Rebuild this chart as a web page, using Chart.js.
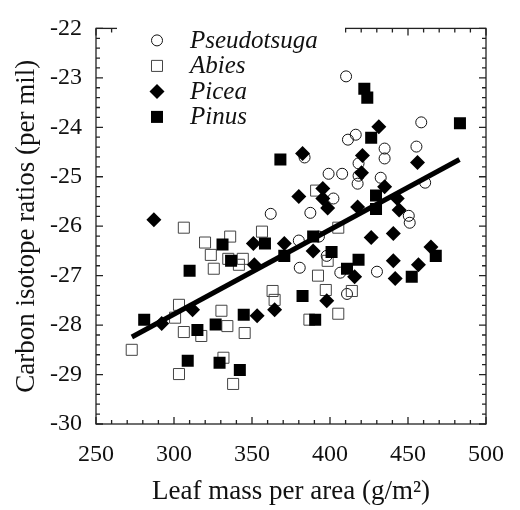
<!DOCTYPE html>
<html>
<head>
<meta charset="utf-8">
<script src="https://cdn.jsdelivr.net/npm/chart.js@4/dist/chart.umd.min.js"></script>
<style>
  html, body { margin: 0; padding: 0; background: #fff; }
</style>
</head>
<body>
<canvas id="myChart" width="520" height="510"></canvas>
<script>
var ctx = document.getElementById('myChart').getContext('2d');

// leaf mass per area (g/m2) and carbon isotope ratio (per mil)
var pseudotsugaX = [362.0, 380.0, 380.6, 387.4, 392.9, 397.9, 406.6, 410.9, 430.1, 410.3, 458.5, 411.5, 416.5, 383.7, 435.0, 435.0, 455.4, 418.3, 418.3, 417.7, 399.1, 407.8, 432.5, 461.0, 402.2, 450.5, 451.1];
var pseudotsugaY = [-25.75, -26.29, -26.84, -25.73, -26.21, -26.60, -26.94, -27.37, -26.92, -22.97, -23.90, -24.25, -24.15, -24.61, -24.43, -24.63, -24.39, -24.73, -24.98, -25.14, -24.94, -24.94, -25.02, -25.12, -25.44, -25.79, -25.93];

var abiesX = [306.3, 319.9, 336.0, 356.4, 323.6, 334.8, 344.1, 341.6, 325.5, 363.2, 364.5, 303.2, 300.7, 330.4, 334.2, 306.3, 317.5, 345.3, 272.9, 331.7, 303.2, 337.9, 405.3, 391.1, 392.3, 397.3, 398.5, 414.0, 386.8, 405.3];
var abiesY = [-26.03, -26.33, -26.21, -26.11, -26.58, -26.66, -26.66, -26.78, -26.86, -27.31, -27.49, -27.59, -27.85, -27.71, -28.02, -28.14, -28.22, -28.16, -28.50, -28.66, -28.99, -29.19, -26.03, -25.28, -27.00, -27.29, -26.70, -27.31, -27.89, -27.77];

var piceaX = [287.1, 292.1, 311.9, 350.9, 370.7, 351.5, 353.3, 364.5, 382.4, 420.8, 431.3, 456.1, 420.2, 435.0, 395.4, 395.4, 398.5, 380.0, 417.7, 443.1, 444.3, 389.2, 426.4, 440.6, 464.7, 440.6, 456.7, 415.8, 441.8, 397.9];
var piceaY = [-25.87, -27.97, -27.69, -26.35, -26.35, -26.78, -27.81, -27.69, -24.53, -24.57, -23.99, -24.71, -24.92, -25.20, -25.24, -25.44, -25.63, -25.40, -25.61, -25.44, -25.67, -26.50, -26.23, -26.15, -26.42, -26.70, -26.78, -27.02, -27.06, -27.51];

var pinusX = [280.9, 308.8, 310.0, 331.1, 336.6, 315.0, 326.7, 329.2, 342.2, 344.7, 358.3, 370.7, 368.2, 382.4, 390.5, 389.2, 401.0, 410.9, 418.3, 429.5, 429.5, 422.0, 423.9, 426.4, 483.3, 452.4, 467.8];
var pinusY = [-27.89, -28.72, -26.90, -26.37, -26.70, -28.10, -27.99, -28.76, -28.91, -27.79, -26.35, -26.60, -24.65, -27.41, -27.89, -26.21, -26.52, -26.86, -26.68, -25.65, -25.38, -23.22, -23.40, -24.21, -23.92, -27.02, -26.60];

// regression line end points
var fitX = [273, 483];
var fitY = [-28.24, -24.65];

var legendNames = ['Pseudotsuga', 'Abies', 'Picea', 'Pinus'];

function pts(xs, ys) {
    return xs.map(function (x, i) { return {x: x, y: ys[i]}; });
}

var serif = '"Liberation Serif", "Times New Roman", serif';

// draws a marker the same way for the legend
function drawMarker(c, style, r, x, y, fill, stroke, lw) {
    c.beginPath();
    if (style == 'circle') {
        c.arc(x, y, r, 0, Math.PI * 2);
    } else if (style == 'rect') {
        var s = r * Math.SQRT1_2;
        c.rect(x - s, y - s, 2 * s, 2 * s);
    } else if (style == 'rectRot') {
        c.moveTo(x, y - r); c.lineTo(x + r, y); c.lineTo(x, y + r); c.lineTo(x - r, y);
        c.closePath();
    }
    if (fill) { c.fillStyle = fill; c.fill(); }
    if (lw) { c.strokeStyle = stroke; c.lineWidth = lw; c.stroke(); }
}

var insideLegend = {
    id: 'insideLegend',
    afterDraw: function (chart) {
        var c = chart.ctx, a = chart.chartArea;
        c.save();
        // the legend box is white and hides part of the top border
        c.fillStyle = '#fff';
        c.fillRect(a.left + 21, a.top - 3, 228, 12);
        c.font = 'italic 25px ' + serif;
        c.textBaseline = 'middle';
        legendNames.forEach(function (name, i) {
            var ds = chart.data.datasets.find(function (d) { return d.label == name; });
            var y = a.top + 12 + i * 25.5;
            drawMarker(c, ds.pointStyle, ds.pointRadius, a.left + 61, y,
                ds.backgroundColor, ds.borderColor, ds.borderWidth);
            c.fillStyle = '#111';
            c.fillText(name, a.left + 94, y + 1);
        });
        c.restore();
    }
};

var frameTicks = {
    id: 'frameTicks',
    afterDatasetsDraw: function (chart) {
        var c = chart.ctx, a = chart.chartArea;
        var sx = chart.scales.x, sy = chart.scales.y;
        c.save();
        c.strokeStyle = '#222';
        c.lineWidth = 1.3;
        c.strokeRect(a.left, a.top, a.right - a.left, a.bottom - a.top);
        c.beginPath();
        for (var v = 250; v <= 500; v += 10) {
            var px = sx.getPixelForValue(v);
            var len = (v % 50 == 0) ? 7 : 4;
            c.moveTo(px, a.bottom); c.lineTo(px, a.bottom - len);
            c.moveTo(px, a.top); c.lineTo(px, a.top + len);
        }
        for (var k = 0; k <= 40; k++) {
            var py = sy.getPixelForValue(-30 + k * 0.2);
            var l2 = (k % 5 == 0) ? 7 : 4;
            c.moveTo(a.left, py); c.lineTo(a.left + l2, py);
            c.moveTo(a.right, py); c.lineTo(a.right - l2, py);
        }
        c.stroke();
        c.restore();
    }
};

var chart = new Chart(ctx, {
    type: 'scatter',
    data: {
        datasets: [{
            label: 'fit',
            type: 'line',
            data: pts(fitX, fitY),
            borderColor: '#000',
            borderWidth: 5,
            pointRadius: 0,
            order: 0
        }, {
            label: 'Pseudotsuga',
            data: pts(pseudotsugaX, pseudotsugaY),
            pointStyle: 'circle',
            pointRadius: 5.5,
            backgroundColor: 'rgba(255,255,255,0)',
            borderColor: '#111',
            borderWidth: 1,
            order: 4
        }, {
            label: 'Abies',
            data: pts(abiesX, abiesY),
            pointStyle: 'rect',
            pointRadius: 7.8,
            backgroundColor: 'rgba(255,255,255,0)',
            borderColor: '#444',
            borderWidth: 1,
            order: 3
        }, {
            label: 'Picea',
            data: pts(piceaX, piceaY),
            pointStyle: 'rectRot',
            pointRadius: 7.5,
            backgroundColor: '#000',
            borderColor: '#000',
            borderWidth: 0,
            order: 2
        }, {
            label: 'Pinus',
            data: pts(pinusX, pinusY),
            pointStyle: 'rect',
            pointRadius: 8.5,
            backgroundColor: '#000',
            borderColor: '#000',
            borderWidth: 0,
            order: 1
        }]
    },
    options: {
        responsive: false,
        animation: false,
        devicePixelRatio: 1,
        layout: { padding: { left: 0, right: 20, top: 19, bottom: 0 } },
        plugins: {
            legend: { display: false },
            tooltip: { enabled: false }
        },
        scales: {
            x: {
                type: 'linear',
                min: 250,
                max: 500,
                grid: { display: false, drawTicks: false },
                border: { display: false },
                ticks: { stepSize: 50, padding: 16, color: '#111', font: { family: serif, size: 24 } },
                title: {
                    display: true,
                    text: 'Leaf mass per area (g/m²)',
                    color: '#111',
                    font: { family: serif, size: 27 },
                    padding: { top: 0, bottom: 2 }
                },
                afterFit: function (s) { s.height = 86; }
            },
            y: {
                type: 'linear',
                min: -30,
                max: -22,
                grid: { display: false, drawTicks: false },
                border: { display: false },
                ticks: { stepSize: 1, padding: 14, color: '#111', font: { family: serif, size: 24 } },
                title: {
                    display: true,
                    text: 'Carbon isotope ratios (per mil)',
                    color: '#111',
                    font: { family: serif, size: 27 },
                    padding: { top: 11, bottom: 0 }
                },
                afterFit: function (s) { s.width = 96; }
            }
        }
    },
    plugins: [frameTicks, insideLegend]
});
</script>
</body>
</html>
